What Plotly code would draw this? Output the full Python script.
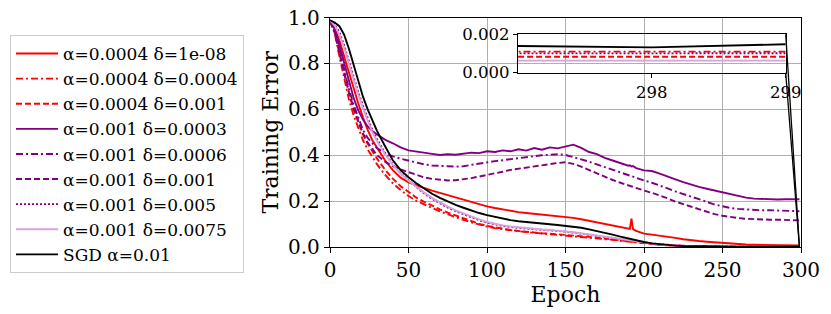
import plotly.graph_objects as go

# ---------------- data ----------------
epochs = [0, 3, 6, 9, 12, 15, 18, 21, 24, 27, 30,
          35, 40, 45, 50, 55, 60, 65, 70, 75, 80, 85, 90, 95, 100, 105, 110, 115, 120, 125, 130,
          135, 140, 145, 150, 155, 160, 165, 170, 175, 180, 185, 190,
          191, 192, 193,
          195, 200, 205, 210, 215, 220, 225, 230, 235, 240, 245, 250, 255, 260, 265, 270, 275, 280, 285, 290, 295,
          297, 298, 299]

red_solid = [0.985, 0.955, 0.9, 0.83, 0.76, 0.69, 0.625, 0.565, 0.51, 0.465, 0.43,
             0.378, 0.335, 0.302, 0.282, 0.268, 0.257, 0.246, 0.236, 0.226, 0.215, 0.205, 0.195, 0.186, 0.177, 0.17, 0.163, 0.158, 0.152, 0.148, 0.145,
             0.141, 0.138, 0.134, 0.13, 0.127, 0.121, 0.114, 0.108, 0.1, 0.093, 0.086, 0.08,
             0.079, 0.124, 0.078,
             0.07, 0.058, 0.054, 0.05, 0.046, 0.04, 0.034, 0.029, 0.026, 0.023, 0.02, 0.017, 0.014, 0.012, 0.011, 0.01, 0.009, 0.0082, 0.0076, 0.0071, 0.0068,
             0.0067, 0.0066, 0.0066]

red_dashdot = [0.985, 0.93, 0.83, 0.73, 0.645, 0.575, 0.515, 0.465, 0.425, 0.39, 0.36,
               0.315, 0.278, 0.248, 0.222, 0.201, 0.184, 0.17, 0.155, 0.142, 0.13, 0.118, 0.107, 0.097, 0.089, 0.082, 0.077, 0.072, 0.068, 0.065, 0.062,
               0.059, 0.057, 0.055, 0.052, 0.049, 0.046, 0.043, 0.039, 0.035, 0.031, 0.027, 0.023,
               0.022, 0.022, 0.021,
               0.019, 0.016, 0.013, 0.01, 0.0075, 0.0055, 0.004, 0.0032, 0.0026, 0.0022, 0.0018, 0.0016, 0.0014, 0.0013, 0.0012, 0.0012, 0.0011, 0.0011, 0.0011, 0.0011, 0.0011,
               0.0011, 0.00108, 0.0011]

red_dashed = [0.985, 0.94, 0.85, 0.76, 0.675, 0.6, 0.54, 0.49, 0.45, 0.415, 0.385,
              0.337, 0.298, 0.265, 0.238, 0.215, 0.197, 0.18, 0.164, 0.15, 0.137, 0.124, 0.112, 0.101, 0.092, 0.085, 0.079, 0.074, 0.07, 0.066, 0.063,
              0.06, 0.058, 0.056, 0.053, 0.05, 0.047, 0.044, 0.04, 0.036, 0.032, 0.028, 0.024,
              0.023, 0.023, 0.022,
              0.02, 0.017, 0.013, 0.01, 0.0075, 0.0055, 0.004, 0.003, 0.0024, 0.002, 0.0016, 0.0013, 0.0011, 0.001, 0.0009, 0.0009, 0.00085, 0.00085, 0.00084, 0.00083, 0.00083,
              0.00083, 0.00082, 0.00083]

purple_solid = [0.985, 0.95, 0.88, 0.8, 0.72, 0.65, 0.595, 0.555, 0.525, 0.505, 0.49,
                0.468, 0.452, 0.434, 0.421, 0.415, 0.409, 0.406, 0.401, 0.404, 0.402, 0.408, 0.411, 0.409, 0.417, 0.414, 0.421, 0.417, 0.426, 0.42, 0.431,
                0.424, 0.434, 0.43, 0.438, 0.446, 0.432, 0.414, 0.405, 0.388, 0.377, 0.366, 0.354,
                0.356, 0.351, 0.353,
                0.344, 0.334, 0.331, 0.32, 0.306, 0.295, 0.283, 0.271, 0.262, 0.254, 0.246, 0.238, 0.23, 0.222, 0.215, 0.211, 0.209, 0.208, 0.207, 0.208, 0.207,
                0.208, 0.207, 0.208]

purple_dashdot = [0.985, 0.94, 0.86, 0.77, 0.69, 0.62, 0.56, 0.51, 0.475, 0.45, 0.43,
                  0.41, 0.395, 0.385, 0.377, 0.367, 0.36, 0.355, 0.352, 0.352, 0.35, 0.352, 0.358, 0.364, 0.37, 0.374, 0.378, 0.383, 0.386, 0.39, 0.397,
                  0.4, 0.402, 0.404, 0.401, 0.392, 0.382, 0.372, 0.36, 0.348, 0.336, 0.324, 0.311,
                  0.309, 0.306, 0.304,
                  0.3, 0.29, 0.28, 0.269, 0.255, 0.242, 0.231, 0.222, 0.21, 0.197, 0.185, 0.177, 0.17, 0.166, 0.163, 0.161, 0.16, 0.16, 0.159, 0.158, 0.157,
                  0.156, 0.156, 0.156]

purple_dashed = [0.985, 0.935, 0.845, 0.755, 0.675, 0.605, 0.545, 0.495, 0.455, 0.425, 0.4,
                 0.372, 0.352, 0.338, 0.326, 0.313, 0.303, 0.297, 0.292, 0.29, 0.291, 0.294, 0.3, 0.307, 0.313, 0.32, 0.328, 0.336, 0.341, 0.346, 0.353,
                 0.358, 0.363, 0.366, 0.369, 0.362, 0.35, 0.335, 0.32, 0.305, 0.292, 0.28, 0.268,
                 0.266, 0.264, 0.262,
                 0.257, 0.246, 0.236, 0.225, 0.212, 0.198, 0.187, 0.178, 0.165, 0.153, 0.143, 0.136, 0.13, 0.126, 0.123, 0.121, 0.12, 0.119, 0.119, 0.118, 0.117,
                 0.116, 0.116, 0.116]

purple_dotted = [0.988, 0.97, 0.935, 0.88, 0.81, 0.74, 0.675, 0.615, 0.56, 0.51, 0.47,
                 0.41, 0.36, 0.322, 0.29, 0.26, 0.233, 0.21, 0.19, 0.172, 0.156, 0.142, 0.129, 0.117, 0.106, 0.098, 0.092, 0.087, 0.083, 0.08, 0.077,
                 0.075, 0.073, 0.071, 0.067, 0.063, 0.058, 0.053, 0.048, 0.043, 0.037, 0.032, 0.027,
                 0.026, 0.026, 0.025,
                 0.023, 0.019, 0.015, 0.012, 0.009, 0.0065, 0.0045, 0.0033, 0.0026, 0.0021, 0.0018, 0.0015, 0.0013, 0.0012, 0.0011, 0.00105, 0.001, 0.001, 0.001, 0.001, 0.001,
                 0.00101, 0.001, 0.00101]

plum_solid = [0.988, 0.965, 0.925, 0.87, 0.8, 0.73, 0.665, 0.605, 0.55, 0.5, 0.462,
              0.405, 0.358, 0.32, 0.289, 0.262, 0.237, 0.214, 0.194, 0.176, 0.16, 0.146, 0.132, 0.12, 0.109, 0.1, 0.094, 0.089, 0.085, 0.081, 0.078,
              0.076, 0.074, 0.072, 0.068, 0.064, 0.059, 0.054, 0.049, 0.044, 0.038, 0.033, 0.028,
              0.027, 0.027, 0.026,
              0.024, 0.019, 0.015, 0.011, 0.008, 0.006, 0.0042, 0.003, 0.0022, 0.0017, 0.0014, 0.0012, 0.001, 0.0009, 0.0008, 0.0007, 0.00066, 0.00064, 0.00063, 0.00063, 0.00063,
              0.00063, 0.00062, 0.00063]

sgd = [0.988, 0.978, 0.962, 0.925, 0.865, 0.795, 0.725, 0.655, 0.6, 0.55, 0.505,
       0.44, 0.378, 0.335, 0.304, 0.278, 0.254, 0.232, 0.214, 0.198, 0.184, 0.171, 0.159, 0.148, 0.139, 0.131, 0.123, 0.117, 0.112, 0.108, 0.104,
       0.101, 0.099, 0.096, 0.093, 0.089, 0.084, 0.077, 0.07, 0.062, 0.054, 0.045, 0.037,
       0.035, 0.034, 0.032,
       0.029, 0.022, 0.016, 0.012, 0.009, 0.006, 0.0045, 0.0035, 0.003, 0.0025, 0.0021, 0.0018, 0.0016, 0.0015, 0.0015, 0.0014, 0.0014, 0.0014, 0.0014, 0.0014, 0.0014,
       0.00139, 0.00132, 0.00148]

labels = ["α=0.0004 δ=1e-08", "α=0.0004 δ=0.0004", "α=0.0004 δ=0.001",
          "α=0.001 δ=0.0003", "α=0.001 δ=0.0006", "α=0.001 δ=0.001",
          "α=0.001 δ=0.005", "α=0.001 δ=0.0075", "SGD α=0.01"]
series = [red_solid, red_dashdot, red_dashed, purple_solid, purple_dashdot,
          purple_dashed, purple_dotted, plum_solid, sgd]

x_ticks = [0, 50, 100, 150, 200, 250, 300]
y_ticks = [0.0, 0.2, 0.4, 0.6, 0.8, 1.0]
inset_x_ticks = [298, 299]
inset_y_ticks = [0.0, 0.002]

# ---------------- style ----------------
DASHDOT = "7px,3px,2px,3px"
DASHED = "6px,3px"
DOTTED = "2px,2px"
styles = [("red", "solid"), ("red", DASHDOT), ("red", DASHED),
          ("purple", "solid"), ("purple", DASHDOT), ("purple", DASHED),
          ("purple", DOTTED), ("#d8a0d8", "solid"), ("black", "solid")]

W, H = 831, 314
FONT = "DejaVu Serif"
main_x = [330 / W, 801 / W]
main_y = [1 - 247 / H, 1 - 17.5 / H]
ins_x = [518 / W, 785.7 / W]
ins_y = [1 - 72.7 / H, 1 - 34.3 / H]

fig = go.Figure()
for lab, ys, (col, dash) in zip(labels, series, styles):
    fig.add_trace(go.Scatter(x=epochs, y=ys, mode="lines", name=lab,
                             line=dict(color=col, width=1.9, dash=dash),
                             xaxis="x", yaxis="y"))
for lab, ys, (col, dash) in zip(labels, series, styles):
    fig.add_trace(go.Scatter(x=epochs, y=ys, mode="lines", name=lab, showlegend=False,
                             line=dict(color=col, width=1.9, dash=dash),
                             xaxis="x2", yaxis="y2"))

axis_common = dict(showline=True, linecolor="black", linewidth=1.3, mirror=True,
                   ticks="outside", tickcolor="black", zeroline=False)

fig.update_layout(
    width=W, height=H,
    margin=dict(l=0, r=0, t=0, b=0),
    paper_bgcolor="white", plot_bgcolor="rgba(0,0,0,0)",
    font=dict(family=FONT, color="black"),
    xaxis=dict(domain=main_x, anchor="y", range=[0, 300], tickvals=x_ticks,
               showgrid=True, gridcolor="#b0b0b0", gridwidth=1, ticklen=5,
               tickfont=dict(size=20, family=FONT),
               title=dict(text="Epoch", font=dict(size=22, family=FONT), standoff=4),
               automargin=False, **axis_common),
    yaxis=dict(domain=main_y, anchor="x", range=[0, 1], tickvals=y_ticks, tickformat=".1f",
               showgrid=True, gridcolor="#b0b0b0", gridwidth=1, ticklen=5,
               tickfont=dict(size=20, family=FONT),
               title=dict(text="Training Error", font=dict(size=22, family=FONT), standoff=3),
               automargin=False, **axis_common),
    xaxis2=dict(domain=ins_x, anchor="y2", range=[297, 299], tickvals=inset_x_ticks,
                showgrid=False, ticklen=4, tickfont=dict(size=16.5, family=FONT),
                automargin=False, **axis_common),
    yaxis2=dict(domain=ins_y, anchor="x2", range=[0, 0.002], tickvals=inset_y_ticks,
                tickformat=".3f", showgrid=False, ticklen=4,
                tickfont=dict(size=16.5, family=FONT),
                automargin=False, **axis_common),
    legend=dict(x=10 / W, y=1 - 35 / H, xanchor="left", yanchor="top",
                bgcolor="white", bordercolor="#cccccc", borderwidth=1,
                font=dict(size=17, family=FONT), tracegroupgap=0, itemwidth=42),
    showlegend=True,
)

# connector lines from the inset to the zoomed region (like mark_inset)
def main_px(xv, yv):
    fx = main_x[0] + (xv - 0) / 300 * (main_x[1] - main_x[0])
    fy = main_y[0] + (yv - 0) / 1 * (main_y[1] - main_y[0])
    return fx, fy

tr = main_px(inset_x_ticks[-1], inset_y_ticks[-1])
br = main_px(inset_x_ticks[-1], inset_y_ticks[0])
fig.add_shape(type="line", xref="paper", yref="paper", x0=ins_x[1], y0=ins_y[1],
              x1=tr[0], y1=tr[1], line=dict(color="black", width=1.3))
fig.add_shape(type="line", xref="paper", yref="paper", x0=ins_x[1], y0=ins_y[0],
              x1=br[0], y1=br[1], line=dict(color="black", width=1.3))

fig.write_html("out.html", config={"displayModeBar": False},
               post_script="document.body.style.margin='0px';")
